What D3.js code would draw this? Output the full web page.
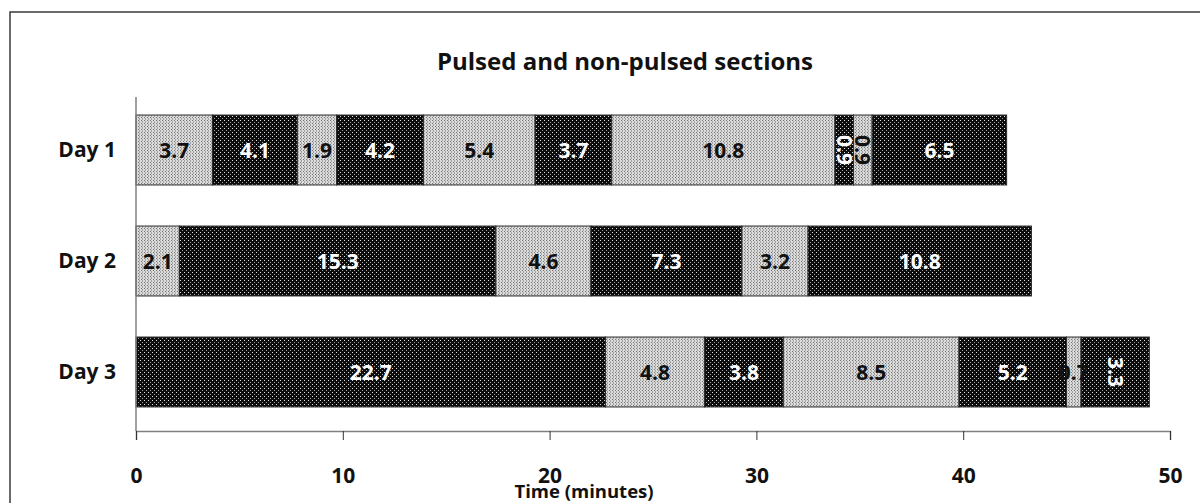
<!DOCTYPE html>
<html>
<head>
<meta charset="utf-8">
<script src="https://cdn.jsdelivr.net/npm/d3@7"></script>
<style>
  html, body { margin: 0; padding: 0; background: #fff; }
  svg { display: block; }
  text { font-family: "Open Sans", "Noto Sans", sans-serif; font-weight: 700; }
</style>
</head>
<body>
<svg id="chart" width="1200" height="503"></svg>
<script>
// Section durations (minutes) per day, in order; kinds alternate light/dark fills
const days = ["Day 1", "Day 2", "Day 3"];
const day1Durations = [3.7, 4.1, 1.9, 4.2, 5.4, 3.7, 10.8, 0.9, 0.9, 6.5];
const day2Durations = [2.1, 15.3, 4.6, 7.3, 3.2, 10.8];
const day3Durations = [22.7, 4.8, 3.8, 8.5, 5.2, 0.7, 3.3];
// kind of the first section of each day ("light" = dotted grey, "dark" = black)
const firstKind = ["light", "light", "dark"];
// labels that are drawn rotated (day index, section index)
const rotatedLabels = [[0, 7], [0, 8], [2, 6]];
const xTicks = [0, 10, 20, 30, 40, 50];
const chartTitle = "Pulsed and non-pulsed sections";
const xTitle = "Time (minutes)";

const durations = [day1Durations, day2Durations, day3Durations];

const svg = d3.select("#chart");
const defs = svg.append("defs");

// light dotted fill
const pl = defs.append("pattern").attr("id", "lightDots")
  .attr("patternUnits", "userSpaceOnUse").attr("width", 3).attr("height", 3);
pl.append("rect").attr("width", 3).attr("height", 3).attr("fill", "#dadada");
pl.append("rect").attr("x", 0).attr("y", 0).attr("width", 1).attr("height", 1).attr("fill", "#747474");
pl.append("rect").attr("x", 1).attr("y", 1).attr("width", 1).attr("height", 2).attr("fill", "#a4a4a4");

// dark fill with white dots
const pd = defs.append("pattern").attr("id", "darkDots")
  .attr("patternUnits", "userSpaceOnUse").attr("width", 4).attr("height", 4);
pd.append("rect").attr("width", 4).attr("height", 4).attr("fill", "#0d0d0d");
pd.append("rect").attr("x", 0).attr("y", 0).attr("width", 1).attr("height", 1).attr("fill", "#e0e0e0");
pd.append("rect").attr("x", 2).attr("y", 2).attr("width", 1).attr("height", 1).attr("fill", "#a0a0a0");

// outer frame
svg.append("rect").attr("x", 10).attr("y", 12).attr("width", 1220).attr("height", 520)
  .attr("fill", "none").attr("stroke", "#3a3a3a").attr("stroke-width", 1.5);

const plot = { left: 136, right: 1170, top: 97, bottom: 431 };

const x = d3.scaleLinear().domain([0, 50]).range([plot.left, plot.right]);
const y = d3.scaleBand().domain(days).range([94.5, 427.5]).paddingInner(0.37).paddingOuter(0.185);

// title
svg.append("text").attr("x", 625).attr("y", 70).attr("text-anchor", "middle")
  .attr("font-size", 24).attr("fill", "#111").text(chartTitle);

// build segments
const segs = [];
durations.forEach((arr, di) => {
  let start = 0;
  arr.forEach((v, si) => {
    const kind = (si % 2 === 0) === (firstKind[di] === "light") ? "light" : "dark";
    segs.push({ day: days[di], di, si, start, end: start + v, value: v, kind });
    start += v;
  });
});

const g = svg.append("g");
g.selectAll("rect.seg").data(segs).join("rect")
  .attr("class", "seg")
  .attr("x", d => x(d.start))
  .attr("y", d => y(d.day))
  .attr("width", d => x(d.end) - x(d.start))
  .attr("height", y.bandwidth())
  .attr("fill", d => d.kind === "light" ? "url(#lightDots)" : "url(#darkDots)")
  .attr("stroke", "#2a2a2a").attr("stroke-width", 1);

const isRot = d => rotatedLabels.some(r => r[0] === d.di && r[1] === d.si);

g.selectAll("text.lab").data(segs).join("text")
  .attr("class", "lab")
  .attr("transform", d => {
    const cx = (x(d.start) + x(d.end)) / 2;
    const cy = y(d.day) + y.bandwidth() / 2;
    return isRot(d) ? `translate(${cx},${cy}) rotate(90)` : `translate(${cx},${cy})`;
  })
  .attr("text-anchor", "middle").attr("dy", "0.36em")
  .attr("font-size", 21)
  .attr("fill", d => d.kind === "light" ? "#111" : "#fff")
  .text(d => d3.format(".1f")(d.value));

// x axis
const xAxis = svg.append("g").attr("transform", `translate(0,${plot.bottom})`)
  .call(d3.axisBottom(x).tickValues(xTicks).tickSize(9).tickPadding(28).tickFormat(d3.format("d")));
xAxis.select(".domain").attr("stroke", "#808080").attr("stroke-width", 1.5);
xAxis.selectAll(".tick line").attr("stroke", "#333").attr("stroke-width", 1);
xAxis.selectAll(".tick text").attr("font-size", 21).attr("fill", "#111")
  .attr("font-family", "'Open Sans', sans-serif").attr("font-weight", 700);

// y axis line and category labels
svg.append("line").attr("x1", plot.left).attr("x2", plot.left)
  .attr("y1", plot.top).attr("y2", plot.bottom)
  .attr("stroke", "#808080").attr("stroke-width", 1.5);
const yAxis = svg.append("g").attr("transform", `translate(${plot.left},0)`)
  .call(d3.axisLeft(y).tickSize(0).tickPadding(20));
yAxis.select(".domain").remove();
yAxis.selectAll(".tick text").attr("font-size", 21).attr("fill", "#111")
  .attr("font-family", "'Open Sans', sans-serif").attr("font-weight", 700);

// axis title
svg.append("text").attr("x", 584).attr("y", 498).attr("text-anchor", "middle")
  .attr("font-size", 18.5).attr("fill", "#111").text(xTitle);
</script>
</body>
</html>
